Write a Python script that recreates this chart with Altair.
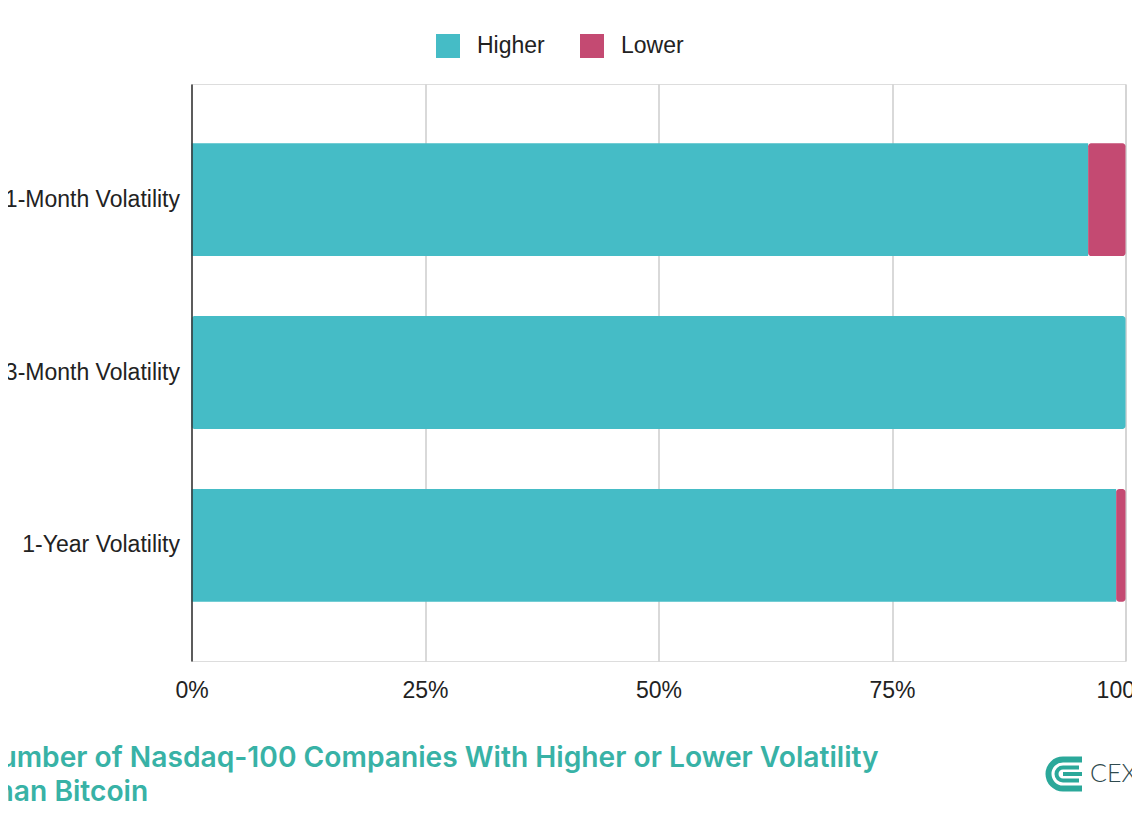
import altair as alt
import pandas as pd

metrics = ["1-Month Volatility", "3-Month Volatility", "1-Year Volatility"]
higher = [96, 100, 99]
lower = [4, 0, 1]
categories = ["Higher", "Lower"]
colors = ["#45BCC6", "#C44A72"]
tick_values = [0, 0.25, 0.5, 0.75, 1]
title_lines = ["Number of Nasdaq-100 Companies With Higher or Lower Volatility", "Than Bitcoin"]
brand = "CEX.IO"

rows = []
for m, h, l in zip(metrics, higher, lower):
    rows.append({"metric": m, "group": "Higher", "order": 0, "count": h})
    rows.append({"metric": m, "group": "Lower", "order": 1, "count": l})
df = pd.DataFrame(rows)

base = alt.Chart(df).transform_filter("datum.count > 0").transform_stack(
    stack="count", groupby=["metric"], as_=["x0", "x1"], offset="normalize",
    sort=[alt.SortField("order", "ascending")],
)

enc = dict(
    x=alt.X("x0:Q", scale=alt.Scale(domain=[0, 1], nice=False),
            axis=alt.Axis(format="%", values=tick_values, title=None, grid=True,
                          gridColor="#cccccc", gridWidth=1.5, domain=False, ticks=False,
                          labelFont="Liberation Sans", labelFontSize=23, labelColor="#222222",
                          labelPadding=18, labelFlush=False)),
    x2="x1:Q",
    y=alt.Y("metric:N", sort=metrics,
            scale=alt.Scale(paddingInner=0.347, paddingOuter=0.342),
            axis=alt.Axis(title=None, ticks=False, domain=True, domainColor="#333333",
                          domainWidth=1.5, grid=False, labelFont="Liberation Sans",
                          labelFontSize=23, labelColor="#222222", labelPadding=12,
                          zindex=1)),
    color=alt.Color("group:N", scale=alt.Scale(domain=categories, range=colors),
                    legend=alt.Legend(orient="none", legendX=244.5, legendY=-50,
                                      direction="horizontal", title=None,
                                      symbolType="square", symbolSize=576,
                                      symbolStrokeWidth=0, symbolOpacity=1,
                                      labelFont="Liberation Sans", labelFontSize=23,
                                      labelColor="#222222", labelOffset=17,
                                      columnPadding=35, padding=0)),
)

plain = base.transform_filter("datum.x1 < 0.9999").mark_bar().encode(**enc)
rounded = base.transform_filter("datum.x1 >= 0.9999").mark_bar(cornerRadiusEnd=3).encode(**enc)

logo_df = pd.DataFrame({"brand": [brand]})
logo_color = "#2BA89A"
logo_text = alt.Chart(logo_df).mark_text(
    font="Lato", fontSize=25, fontWeight=300, color="#2f4a4e", align="left", baseline="alphabetic"
).encode(text="brand:N", x=alt.value(898.5), y=alt.value(698))
outer_arc = alt.Chart(logo_df).mark_arc(color=logo_color).encode(
    x=alt.value(871.5), y=alt.value(690), theta=alt.value(3.14159), theta2=alt.value(6.28318),
    radius=alt.value(17.5), radius2=alt.value(11.5))
inner_arc = alt.Chart(logo_df).mark_arc(color=logo_color).encode(
    x=alt.value(871.5), y=alt.value(690), theta=alt.value(3.14159), theta2=alt.value(6.28318),
    radius=alt.value(8.5), radius2=alt.value(4.5))
bar_top = alt.Chart(logo_df).mark_rect(color=logo_color).encode(
    x=alt.value(871.5), x2=alt.value(890.5), y=alt.value(672.5), y2=alt.value(678.5))
bar_bot = alt.Chart(logo_df).mark_rect(color=logo_color).encode(
    x=alt.value(871.5), x2=alt.value(890.5), y=alt.value(701.5), y2=alt.value(707.5))
bar_in_top = alt.Chart(logo_df).mark_rect(color=logo_color).encode(
    x=alt.value(871.5), x2=alt.value(887.5), y=alt.value(681.5), y2=alt.value(685.5))
bar_in_bot = alt.Chart(logo_df).mark_rect(color=logo_color).encode(
    x=alt.value(871.5), x2=alt.value(887.5), y=alt.value(694.5), y2=alt.value(698.5))
bar_mid = alt.Chart(logo_df).mark_rect(color=logo_color).encode(
    x=alt.value(871.5), x2=alt.value(890.5), y=alt.value(688), y2=alt.value(692))

chart = alt.layer(
    plain, rounded, logo_text, outer_arc, inner_arc, bar_top, bar_bot, bar_in_top, bar_in_bot, bar_mid
).properties(
    width=934, height=577,
    autosize=alt.AutoSizeParams(type="none"),
    padding={"left": 183.5, "top": 76, "right": 6.5, "bottom": 154},
    title=alt.TitleParams(text=title_lines, orient="bottom", anchor="start", frame="group",
                          font="Inter", fontSize=28.2, fontWeight=600, color="#38B2A6",
                          dx=-213.5, dy=-67, offset=20, lineHeight=34, baseline="top"),
).configure_view(strokeWidth=0).configure(background="white")

chart.save("out.html", embed_options={"renderer": "svg", "actions": False})
